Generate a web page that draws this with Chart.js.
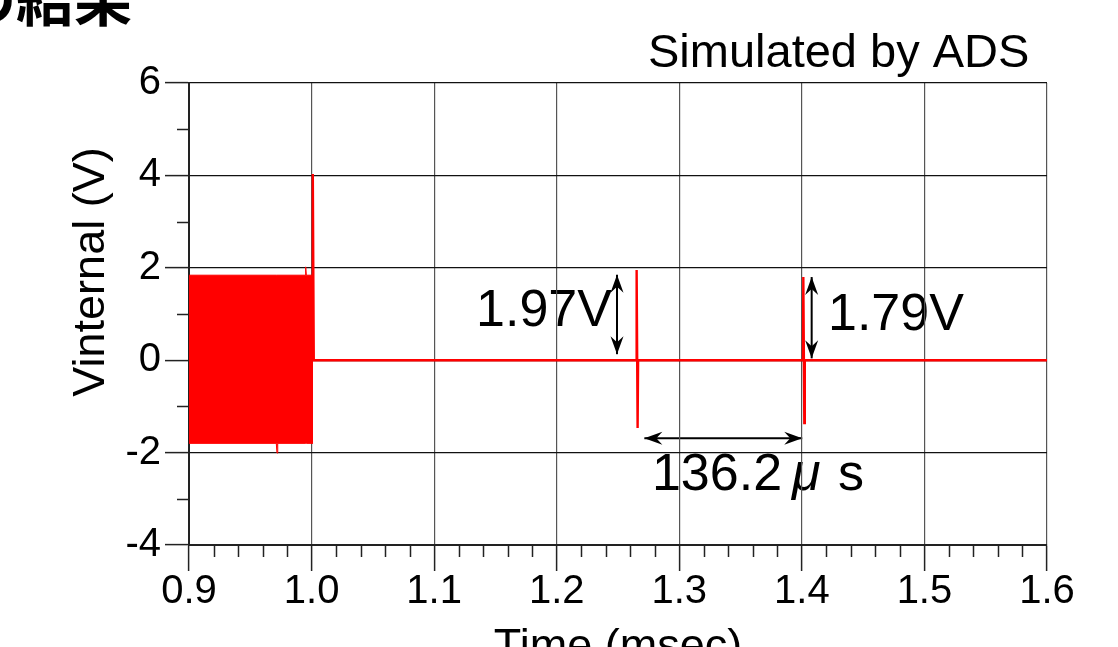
<!DOCTYPE html>
<html><head><meta charset="utf-8">
<script src="https://cdn.jsdelivr.net/npm/chart.js@4/dist/chart.umd.min.js"></script>
<style>
html,body{margin:0;padding:0;background:#fff;overflow:hidden;width:1118px;height:647px;}
#wrap{position:relative;width:1118px;height:680px;}
canvas{display:block;}
</style></head><body>
<div id="wrap"><canvas id="c" width="1118" height="680"></canvas></div>
<script>
// ---- data ----
const burstTime  = [0.9, 0.9712, 0.9718, 0.9724, 0.9948, 0.9952, 0.9957, 1.0012];
const burstUpper = [1.84, 1.84, 1.84, 1.84, 1.84, 2.02, 1.84, 1.84];
const burstLower = [-1.80, -1.80, -2.01, -1.80, -1.80, -1.80, -1.80, -1.80];
const traceTime  = [1.0004, 1.0010, 1.0018, 1.2649, 1.2652, 1.2660, 1.2664, 1.4009, 1.4012, 1.4020, 1.4024, 1.6];
const traceV     = [1.84, 4.03, 0, 0, 1.95, -1.47, 0, 0, 1.80, -1.36, 0, 0];
const xTicks = [0.9, 1.0, 1.1, 1.2, 1.3, 1.4, 1.5, 1.6];
const xTickLabels = ['0.9','1.0','1.1','1.2','1.3','1.4','1.5','1.6'];
const yTicks = [-4, -2, 0, 2, 4, 6];
const yTickLabels = ['-4','-2','0','2','4','6'];
const peak1Label = '1.97V';
const peak2Label = '1.79V';
const intervalLabel = ['136.2', 'μ', ' s'];

const RED = '#ff0000';
const FONT = '"Liberation Sans", Arial, Helvetica, sans-serif';

function arrowHead(ctx, x, y, ang) {
  ctx.save();
  ctx.translate(x, y); ctx.rotate(ang);
  ctx.beginPath();
  ctx.moveTo(0, 0); ctx.lineTo(-18, -6.5); ctx.lineTo(-12, 0); ctx.lineTo(-18, 6.5);
  ctx.closePath(); ctx.fill();
  ctx.restore();
}
function dblArrow(ctx, x1, y1, x2, y2) {
  ctx.beginPath(); ctx.moveTo(x1, y1); ctx.lineTo(x2, y2); ctx.stroke();
  const a = Math.atan2(y2 - y1, x2 - x1);
  arrowHead(ctx, x2, y2, a);
  arrowHead(ctx, x1, y1, a + Math.PI);
}

const annotations = {
  id: 'annotations',
  beforeDraw(chart) {
    const ctx = chart.ctx, xs = chart.scales.x, ys = chart.scales.y;
    const X = v => xs.getPixelForValue(v), Y = v => ys.getPixelForValue(v);
    ctx.save();
    ctx.fillStyle = '#000'; ctx.strokeStyle = '#000';
    ctx.textBaseline = 'alphabetic'; ctx.textAlign = 'left';
    // cropped heading
    ctx.font = 'bold 58px "Noto Sans CJK JP", sans-serif';
    ctx.fillText('の結果', -42, 21);
    // simulated by
    ctx.font = '47px ' + FONT;
    ctx.fillText('Simulated by ADS', 648, 67);
    // y title
    ctx.save();
    ctx.translate(104, 272); ctx.rotate(-Math.PI / 2);
    ctx.textAlign = 'center';
    ctx.font = '45px ' + FONT;
    ctx.fillText('Vinternal (V)', 0, 0);
    ctx.restore();
    // peak labels
    ctx.font = '52px ' + FONT;
    ctx.fillText(peak1Label, X(1.1342), Y(0.736));
    ctx.fillText(peak2Label, X(1.4213), Y(0.65));
    // interval label
    let x0 = X(1.2777), by = Y(-2.81);
    ctx.fillText(intervalLabel[0], x0, by);
    x0 += ctx.measureText(intervalLabel[0]).width + 10;
    ctx.font = 'italic 52px ' + FONT;
    ctx.fillText(intervalLabel[1], x0, by);
    x0 += ctx.measureText(intervalLabel[1]).width + 3;
    ctx.font = '52px ' + FONT;
    ctx.fillText(intervalLabel[2], x0, by);
    // arrows
    ctx.lineWidth = 2;
    dblArrow(ctx, X(1.2492), Y(1.85), X(1.2492), Y(0.13));
    dblArrow(ctx, X(1.408), Y(1.80), X(1.408), Y(0.04));
    dblArrow(ctx, X(1.2715), Y(-1.69), X(1.4003), Y(-1.69));
    ctx.restore();
  },
  afterDraw(chart) {
    const ctx = chart.ctx, xs = chart.scales.x, ys = chart.scales.y;
    const area = chart.chartArea;
    ctx.save();
    ctx.strokeStyle = '#222'; ctx.lineWidth = 1.5;
    ctx.beginPath();
    for (let k = 0; k <= 35; k++) {
      if (k % 5 === 0) continue;
      const px = Math.round(xs.getPixelForValue(0.9 + k * 0.02)) + 0.5;
      ctx.moveTo(px, area.bottom); ctx.lineTo(px, area.bottom + 12);
    }
    for (let v = -3; v <= 5; v += 2) {
      const py = Math.round(ys.getPixelForValue(v)) + 0.5;
      ctx.moveTo(area.left, py); ctx.lineTo(area.left - 12, py);
    }
    ctx.stroke();
    ctx.restore();
  }
};

new Chart(document.getElementById('c'), {
  type: 'line',
  data: {
    datasets: [
      { label: 'burst upper', data: burstTime.map((t, i) => ({ x: t, y: burstUpper[i] })),
        borderColor: RED, backgroundColor: RED, borderWidth: 1, pointRadius: 0, fill: '+1', tension: 0 },
      { label: 'burst lower', data: burstTime.map((t, i) => ({ x: t, y: burstLower[i] })),
        borderColor: RED, backgroundColor: RED, borderWidth: 1, pointRadius: 0, fill: false, tension: 0 },
      { label: 'Vinternal', data: traceTime.map((t, i) => ({ x: t, y: traceV[i] })),
        borderColor: RED, borderWidth: 2.4, pointRadius: 0, fill: false, tension: 0 }
    ]
  },
  options: {
    responsive: false, animation: false, devicePixelRatio: 1,
    layout: { padding: { top: 83, left: 0, right: 71, bottom: 0 } },
    plugins: { legend: { display: false }, tooltip: { enabled: false }, title: { display: false } },
    scales: {
      x: {
        type: 'linear', min: 0.9, max: 1.6,
        afterBuildTicks: s => { s.ticks = xTicks.map(v => ({ value: v })); },
        afterFit: s => { s.height = 135; },
        ticks: { callback: (v, i) => xTickLabels[i], font: { family: FONT, size: 40, lineHeight: 1.05 },
                 color: '#000', padding: 0, maxRotation: 0, autoSkip: false },
        grid: { color: '#555', lineWidth: 1.2, tickLength: 26, tickColor: '#222', tickWidth: 1.5 },
        border: { color: '#222', width: 2 },
        title: { display: true, text: 'Time (msec)', color: '#000',
                 font: { family: FONT, size: 45, lineHeight: 1.2 }, padding: { top: 0, bottom: 5 } }
      },
      y: {
        type: 'linear', min: -4, max: 6,
        afterBuildTicks: s => { s.ticks = yTicks.map(v => ({ value: v })); },
        afterFit: s => { s.width = 189; },
        ticks: { callback: (v, i) => yTickLabels[i], font: { family: FONT, size: 40, lineHeight: 1.05 },
                 color: '#000', padding: 4, autoSkip: false },
        grid: { color: '#111', lineWidth: 1.2, tickLength: 24, tickColor: '#222', tickWidth: 1.5 },
        border: { color: '#222', width: 2 }
      }
    }
  },
  plugins: [annotations]
});
</script>
</body></html>
